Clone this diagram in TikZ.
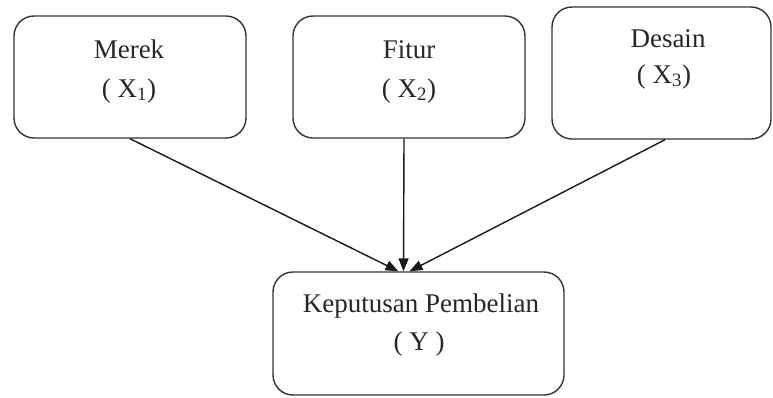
\documentclass[tikz,border=0pt]{standalone}
\usepackage{fontspec}
\setmainfont{Liberation Serif}
\usetikzlibrary{arrows.meta}
\begin{document}
\begin{tikzpicture}[x=1pt,y=-1pt,
  box/.style={draw=black!80, line width=1.4pt, rounded corners=20pt, inner sep=0pt},
  txt/.style={anchor=base, inner sep=0pt, text=black!85, font=\fontsize{27}{31}\selectfont},
  conn/.style={draw=black!90, line width=1.4pt, -{Triangle[length=13pt,width=10pt]}}]
\useasboundingbox (0,0) rectangle (773,397);
\node[box, minimum width=232pt, minimum height=122pt] (b1) at (130,77) {};
\node[box, minimum width=232pt, minimum height=122pt] (b2) at (409,77) {};
\node[box, minimum width=219pt, minimum height=132pt] (b3) at (661.5,73) {};
\node[box, minimum width=291pt, minimum height=123pt] (b4) at (418.5,333.5) {};
\node[txt] (t1a) at (129,58) {Merek};
\node[txt] (t1b) at (129,97) {( X\textsubscript{1})};
\node[txt] (t2a) at (409,58) {Fitur};
\node[txt] (t2b) at (409,97) {( X\textsubscript{2})};
\node[txt] (t3a) at (668,47) {Desain};
\node[txt] (t3b) at (664,83) {( X\textsubscript{3})};
\node[txt] (t4a) at (421,312) {Keputusan Pembelian};
\node[txt] (t4b) at (419,350) {( Y )};
\draw[conn] (b1.south) -- ([xshift=-20pt]b4.north);
\draw[conn] ([xshift=-5pt]b2.south) -- ([xshift=-15pt]b4.north);
\draw[conn] ([xshift=3.5pt]b3.south) -- ([xshift=-9pt]b4.north);
\end{tikzpicture}
\end{document}
